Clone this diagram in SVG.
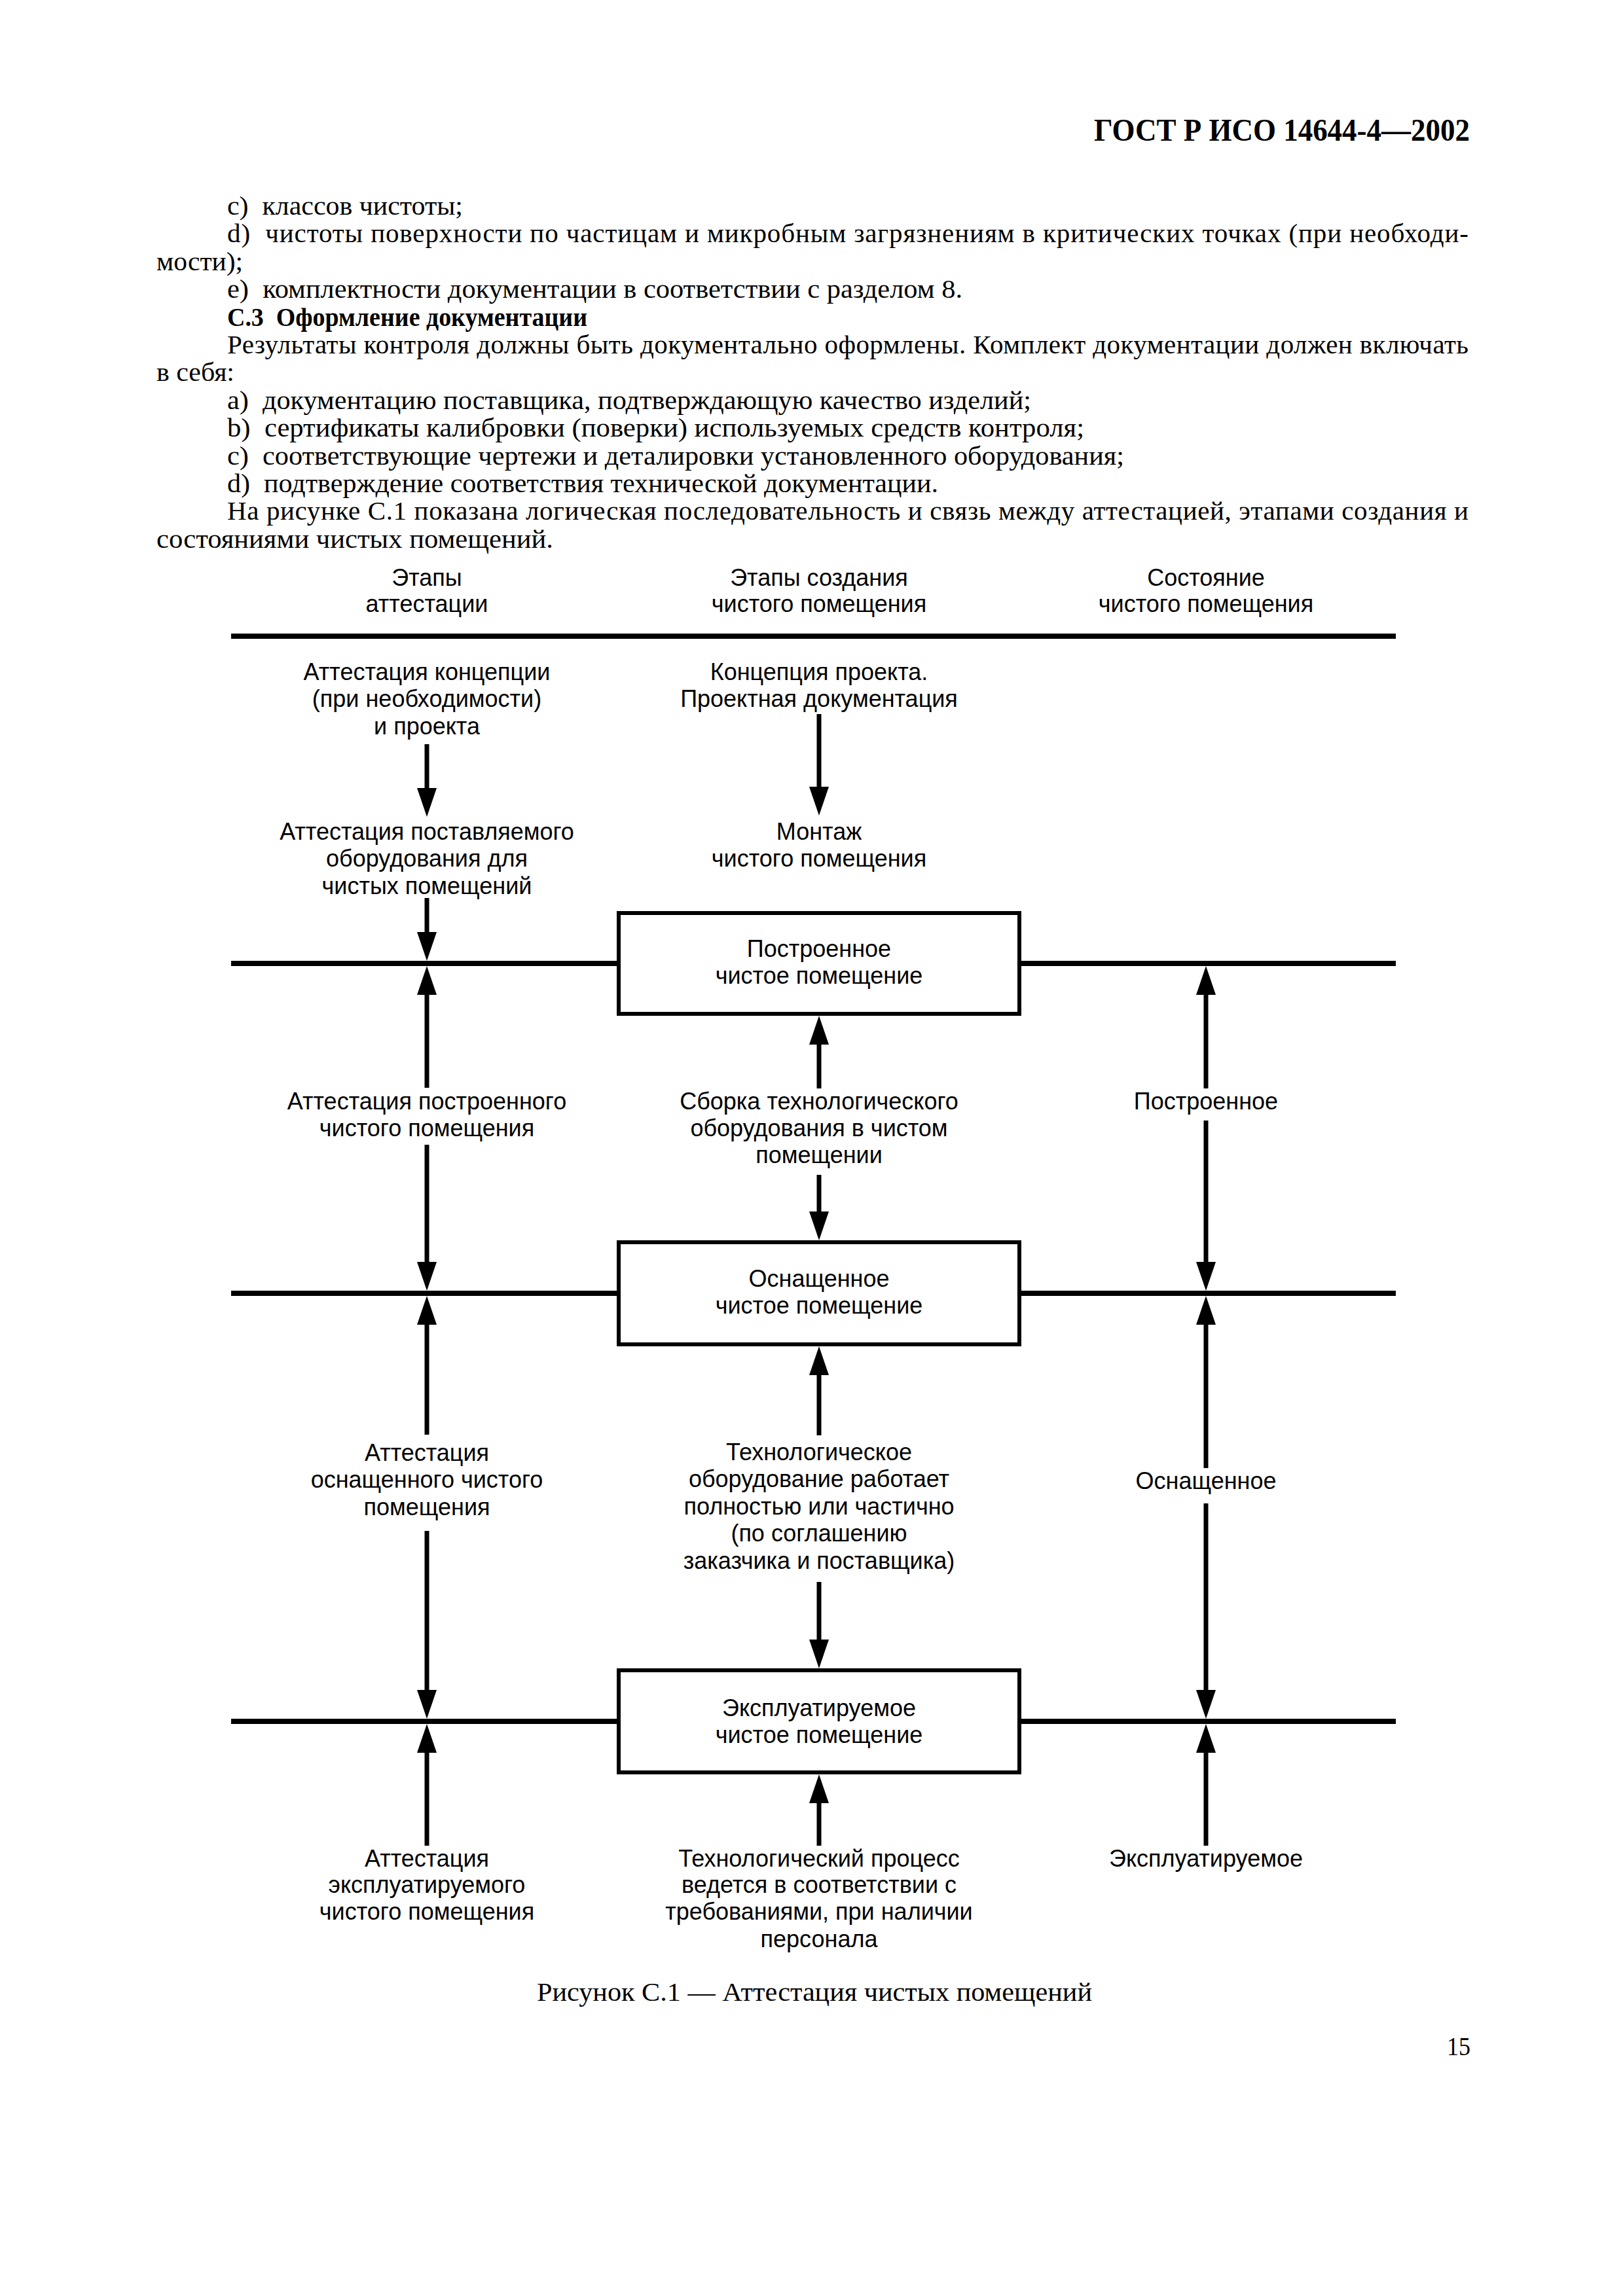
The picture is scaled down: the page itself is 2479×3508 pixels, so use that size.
<svg xmlns="http://www.w3.org/2000/svg" width="2479" height="3508" viewBox="0 0 2479 3508">
<style>
.t{font-family:"Liberation Sans",Arial,sans-serif;font-size:36px;text-anchor:middle;fill:#000}
.b{font-family:"Liberation Serif","Times New Roman",serif;font-size:41px;fill:#000}
.bb{font-family:"Liberation Serif","Times New Roman",serif;font-size:41px;font-weight:bold;fill:#000}
.arr{stroke:#000;stroke-width:7;fill:none;marker-end:url(#ah)}
.hl{stroke:#000;stroke-width:8;fill:none}
.box{fill:#fff;stroke:#000;stroke-width:6}
</style>
<defs>
<marker id="ah" markerUnits="userSpaceOnUse" viewBox="0 0 44 30" markerWidth="44" markerHeight="30" refX="0" refY="15" orient="auto" overflow="visible">
<path d="M0,0 L44,15 L0,30 z" fill="#000"/>
</marker>
</defs>
<rect width="2479" height="3508" fill="#fff"/>

<g id="page-text">
<text x="1671" y="215" font-family="Liberation Serif,serif" font-size="48" font-weight="bold" textLength="574" lengthAdjust="spacingAndGlyphs">ГОСТ Р ИСО 14644-4—2002</text>
<text class="b" x="347" y="328" xml:space="preserve" textLength="360" lengthAdjust="spacingAndGlyphs">c)  классов чистоты;</text>
<text class="b" x="347" y="370" xml:space="preserve" textLength="1896" lengthAdjust="spacing">d)  чистоты поверхности по частицам и микробным загрязнениям в критических точках (при необходи-</text>
<text class="b" x="239" y="413" textLength="132" lengthAdjust="spacingAndGlyphs">мости);</text>
<text class="b" x="347" y="455" xml:space="preserve" textLength="1123" lengthAdjust="spacingAndGlyphs">e)  комплектности документации в соответствии с разделом 8.</text>
<text class="bb" x="347" y="498" xml:space="preserve" textLength="550" lengthAdjust="spacingAndGlyphs">С.3  Оформление документации</text>
<text class="b" x="347" y="540" textLength="1896" lengthAdjust="spacing">Результаты контроля должны быть документально оформлены. Комплект документации должен включать</text>
<text class="b" x="239" y="582" textLength="119" lengthAdjust="spacingAndGlyphs">в себя:</text>
<text class="b" x="347" y="625" xml:space="preserve" textLength="1228" lengthAdjust="spacingAndGlyphs">a)  документацию поставщика, подтверждающую качество изделий;</text>
<text class="b" x="347" y="667" xml:space="preserve" textLength="1309" lengthAdjust="spacingAndGlyphs">b)  сертификаты калибровки (поверки) используемых средств контроля;</text>
<text class="b" x="347" y="710" xml:space="preserve" textLength="1370" lengthAdjust="spacingAndGlyphs">c)  соответствующие чертежи и деталировки установленного оборудования;</text>
<text class="b" x="347" y="752" xml:space="preserve" textLength="1086" lengthAdjust="spacingAndGlyphs">d)  подтверждение соответствия технической документации.</text>
<text class="b" x="347" y="794" textLength="1896" lengthAdjust="spacing">На рисунке С.1 показана логическая последовательность и связь между аттестацией, этапами создания и</text>
<text class="b" x="239" y="837" textLength="606" lengthAdjust="spacingAndGlyphs">состояниями чистых помещений.</text>
<text class="b" x="820" y="3057" textLength="848" lengthAdjust="spacingAndGlyphs">Рисунок С.1 — Аттестация чистых помещений</text>
<text class="b" x="2210" y="3140" textLength="36" lengthAdjust="spacingAndGlyphs">15</text>
</g>

<g id="headers">
<text class="t" x="652" y="895">Этапы</text>
<text class="t" x="652" y="935">аттестации</text>
<text class="t" x="1251" y="895">Этапы создания</text>
<text class="t" x="1251" y="935">чистого помещения</text>
<text class="t" x="1842" y="895">Состояние</text>
<text class="t" x="1842" y="935">чистого помещения</text>
</g>

<g id="connectors">
<line class="hl" x1="353" y1="972" x2="2132" y2="972" stroke-width="7"/>
<line class="hl" x1="353" y1="1472" x2="942" y2="1472"/>
<line class="hl" x1="1560" y1="1472" x2="2132" y2="1472"/>
<line class="hl" x1="353" y1="1976" x2="942" y2="1976"/>
<line class="hl" x1="1560" y1="1976" x2="2132" y2="1976"/>
<line class="hl" x1="353" y1="2630" x2="942" y2="2630"/>
<line class="hl" x1="1560" y1="2630" x2="2132" y2="2630"/>
<line class="arr" x1="652" y1="1137" x2="652" y2="1204"/>
<line class="arr" x1="1251" y1="1091" x2="1251" y2="1202"/>
<line class="arr" x1="652" y1="1372" x2="652" y2="1424"/>
<line class="arr" x1="652" y1="1662" x2="652" y2="1520"/>
<line class="arr" x1="652" y1="1749" x2="652" y2="1928"/>
<line class="arr" x1="1251" y1="1663" x2="1251" y2="1596"/>
<line class="arr" x1="1251" y1="1795" x2="1251" y2="1851"/>
<line class="arr" x1="1842" y1="1663" x2="1842" y2="1520"/>
<line class="arr" x1="1842" y1="1712" x2="1842" y2="1928"/>
<line class="arr" x1="652" y1="2192" x2="652" y2="2024"/>
<line class="arr" x1="652" y1="2339" x2="652" y2="2582"/>
<line class="arr" x1="1251" y1="2193" x2="1251" y2="2101"/>
<line class="arr" x1="1251" y1="2417" x2="1251" y2="2505"/>
<line class="arr" x1="1842" y1="2243" x2="1842" y2="2024"/>
<line class="arr" x1="1842" y1="2297" x2="1842" y2="2582"/>
<line class="arr" x1="652" y1="2820" x2="652" y2="2678"/>
<line class="arr" x1="1251" y1="2820" x2="1251" y2="2755"/>
<line class="arr" x1="1842" y1="2820" x2="1842" y2="2678"/>
</g>

<g id="box-built">
<rect class="box" x="945" y="1395" width="612" height="154"/>
<text class="t" x="1251" y="1462">Построенное</text>
<text class="t" x="1251" y="1503">чистое помещение</text>
</g>
<g id="box-equipped">
<rect class="box" x="945" y="1898" width="612" height="156"/>
<text class="t" x="1251" y="1966">Оснащенное</text>
<text class="t" x="1251" y="2007">чистое помещение</text>
</g>
<g id="box-operational">
<rect class="box" x="945" y="2552" width="612" height="156"/>
<text class="t" x="1251" y="2622">Эксплуатируемое</text>
<text class="t" x="1251" y="2663">чистое помещение</text>
</g>

<g id="n-att-concept">
<text class="t" x="652" y="1039">Аттестация концепции</text>
<text class="t" x="652" y="1080">(при необходимости)</text>
<text class="t" x="652" y="1122">и проекта</text>
</g>
<g id="n-concept">
<text class="t" x="1251" y="1039">Концепция проекта.</text>
<text class="t" x="1251" y="1080">Проектная документация</text>
</g>
<g id="n-att-supplied">
<text class="t" x="652" y="1283">Аттестация поставляемого</text>
<text class="t" x="652" y="1324">оборудования для</text>
<text class="t" x="652" y="1366">чистых помещений</text>
</g>
<g id="n-install">
<text class="t" x="1251" y="1283">Монтаж</text>
<text class="t" x="1251" y="1324">чистого помещения</text>
</g>
<g id="n-att-built">
<text class="t" x="652" y="1695">Аттестация построенного</text>
<text class="t" x="652" y="1736">чистого помещения</text>
</g>
<g id="n-assembly">
<text class="t" x="1251" y="1695">Сборка технологического</text>
<text class="t" x="1251" y="1736">оборудования в чистом</text>
<text class="t" x="1251" y="1777">помещении</text>
</g>
<g id="n-state-built">
<text class="t" x="1842" y="1695">Построенное</text>
</g>
<g id="n-att-equipped">
<text class="t" x="652" y="2232">Аттестация</text>
<text class="t" x="652" y="2273">оснащенного чистого</text>
<text class="t" x="652" y="2315">помещения</text>
</g>
<g id="n-equipment-works">
<text class="t" x="1251" y="2231">Технологическое</text>
<text class="t" x="1251" y="2272">оборудование работает</text>
<text class="t" x="1251" y="2314">полностью или частично</text>
<text class="t" x="1251" y="2355">(по соглашению</text>
<text class="t" x="1251" y="2397">заказчика и поставщика)</text>
</g>
<g id="n-state-equipped">
<text class="t" x="1842" y="2275">Оснащенное</text>
</g>
<g id="n-att-operational">
<text class="t" x="652" y="2852">Аттестация</text>
<text class="t" x="652" y="2892">эксплуатируемого</text>
<text class="t" x="652" y="2933">чистого помещения</text>
</g>
<g id="n-process">
<text class="t" x="1251" y="2852">Технологический процесс</text>
<text class="t" x="1251" y="2892">ведется в соответствии с</text>
<text class="t" x="1251" y="2933">требованиями, при наличии</text>
<text class="t" x="1251" y="2975">персонала</text>
</g>
<g id="n-state-operational">
<text class="t" x="1842" y="2852">Эксплуатируемое</text>
</g>
</svg>
